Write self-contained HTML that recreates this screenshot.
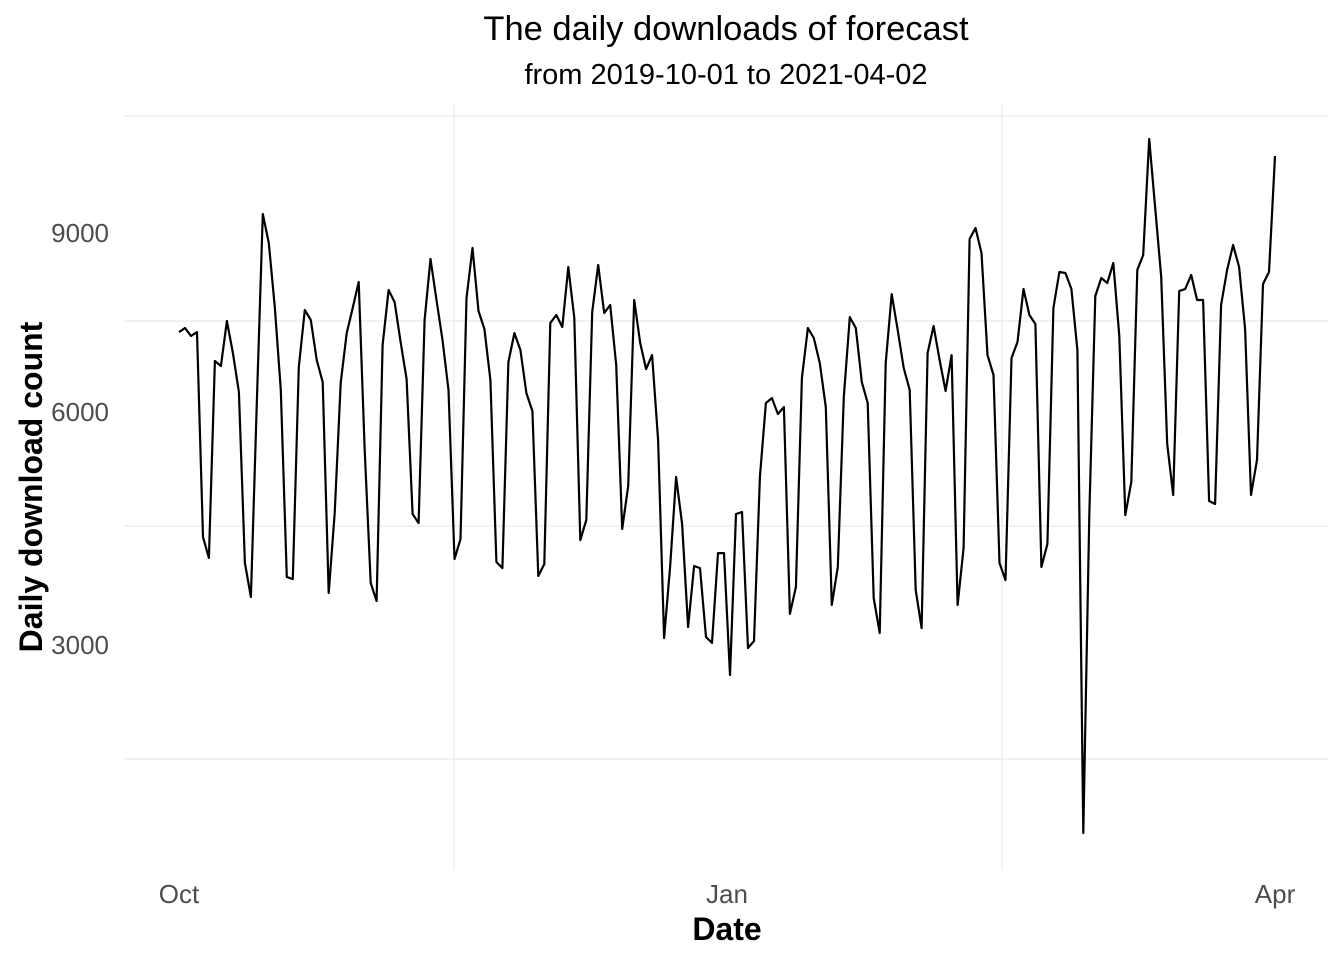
<!DOCTYPE html>
<html><head><meta charset="utf-8"><style>
body{margin:0;background:#fff;}
svg{display:block;font-family:"Liberation Sans",Arial,sans-serif;}
</style></head><body>
<svg id="chart" width="1344" height="960">
<text x="726" y="40" font-size="34.5" text-anchor="middle" fill="#000">The daily downloads of forecast</text>
<text x="726" y="84" font-size="29" text-anchor="middle" fill="#000">from 2019-10-01 to 2021-04-02</text>
<g id="grid" stroke="#ebebeb" stroke-width="1.2">
<line x1="124" x2="1328" y1="116" y2="116"/><line x1="124" x2="1328" y1="321" y2="321"/>
<line x1="124" x2="1328" y1="526" y2="526"/><line x1="124" x2="1328" y1="759" y2="759"/>
<line x1="454" x2="454" y1="103" y2="870"/><line x1="1002" x2="1002" y1="103" y2="870"/>
</g>
<g id="yticks"></g>
<g id="xticks"></g>
<path id="line" fill="none" stroke="#000" stroke-width="2.2" stroke-linejoin="round"/>
<text transform="translate(42,487) rotate(-90)" font-size="32" font-weight="bold" text-anchor="middle">Daily download count</text>
<text x="727" y="940" font-size="32" font-weight="bold" text-anchor="middle">Date</text>
</svg>
<script>
const values = [7264,7331,7198,7264,4261,3999,6792,6711,7448,6921,6303,3938,3533,6180,9355,8817,7686,6335,3768,3744,
6695,7635,7465,6808,6458,3580,4571,6443,7247,7668,8118,5438,3697,3487,7049,7978,7770,7100,6504,4559,
4441,7465,8527,7806,7132,6335,3987,4235,7839,8725,7618,7314,6490,3950,3876,6775,7247,6969,6287,6012,
3780,3925,7415,7550,7348,8383,7500,4222,4480,7600,8419,7583,7719,6727,4364,4934,7806,7083,6663,6887,
5583,3075,3889,5058,4428,3195,3901,3876,3086,3022,4060,4060,2688,4559,4585,2968,3043,5058,6134,6209,
5968,6073,3340,3649,6521,7331,7166,6758,6073,3441,3889,6225,7515,7331,6458,6134,3521,3129,6758,7908,
7298,6680,6335,3614,3183,6921,7365,6808,6319,6887,3441,4123,8890,9093,8634,6887,6569,3938,3732,6839,
7100,7996,7550,7398,3889,4173,7668,8295,8277,7996,6969,1330,4545,7875,8189,8100,8455,7198,4545,4988,
8330,8598,10820,9468,8206,5525,4812,7960,7996,8241,7806,7806,4731,4691,7719,8330,8780,8383,7314,4812,
5296,8084,8295,10477];
const yTicks = [3000,6000,9000];
const xTickLabels = ["Oct","Jan","Apr"];
const xTickDays = [0,91.5,183];

const SVGNS="http://www.w3.org/2000/svg";
function xScale(d){return 179 + d*(1275-179)/183;}
function yScale(v){return 1207.7 - 10.274*Math.sqrt(v);}

const line=document.getElementById('line');
line.setAttribute('d', values.map((v,i)=>(i?'L':'M')+xScale(i).toFixed(1)+','+yScale(v).toFixed(1)).join(''));

const yg=document.getElementById('yticks');
yTicks.forEach(t=>{
  const el=document.createElementNS(SVGNS,'text');
  el.setAttribute('x',109);el.setAttribute('y',yScale(t)+9);
  el.setAttribute('text-anchor','end');el.setAttribute('font-size','26');el.setAttribute('fill','#4d4d4d');
  el.textContent=t;
  
  
  yg.appendChild(el);
});
const xg=document.getElementById('xticks');
xTickLabels.forEach((lab,i)=>{
  const el=document.createElementNS(SVGNS,'text');
  el.setAttribute('x',xScale(xTickDays[i]));el.setAttribute('y',903);
  el.setAttribute('text-anchor','middle');el.setAttribute('font-size','26');el.setAttribute('fill','#4d4d4d');
  el.textContent=lab;
  
  
  xg.appendChild(el);
});
</script>
</body></html>
